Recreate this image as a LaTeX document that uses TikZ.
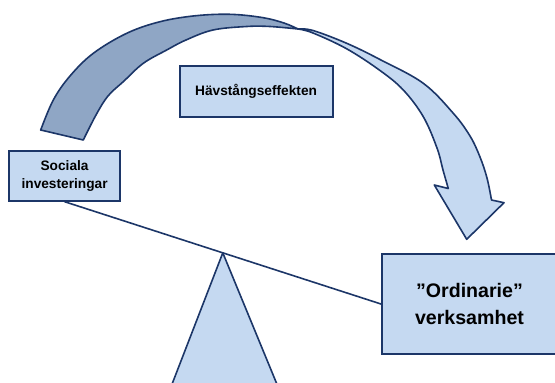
\documentclass[tikz,border=0pt]{standalone}
\usepackage{fontspec}
\setmainfont{Liberation Sans}
\usetikzlibrary{calc}
\definecolor{navy}{RGB}{28,54,104}
\definecolor{paleblue}{RGB}{197,217,241}
\definecolor{greyblue}{RGB}{143,166,197}
\tikzset{
  box/.style={draw=navy, line width=2pt, fill=paleblue, inner sep=0pt, align=center, text=black},
  small/.style={font=\fontsize{13.7}{18}\selectfont\bfseries},
  large/.style={font=\fontsize{19.6}{27}\selectfont\bfseries},
  edge/.style={draw=navy, line width=1.6pt, line join=round},
}
\begin{document}
\begin{tikzpicture}[x=1pt, y=-1pt]
\useasboundingbox (0,0) rectangle (555,383);
\clip (0,0) rectangle (555,383);

% boxes
\node[box, small, minimum width=111.6pt, minimum height=50pt] (soc) at (64.6,175.7) {Sociala\\investeringar};
\node[box, small, minimum width=153pt, minimum height=51pt] (hav) at (256.1,91.2) {Hävstångseffekten};
\node[box, large, minimum width=175pt, minimum height=100pt] (ord) at (469.5,304) {”Ordinarie”\\verksamhet};

% fulcrum under the middle of the beam
\coordinate (apex) at ($(soc.south)!0.5!(ord.west)$);
\coordinate (baseL) at ($(apex)+(-57.5,148.7)$);
\coordinate (baseR) at ($(apex)+(61.3,148.7)$);
\draw[edge, fill=paleblue] (apex) -- (baseL) -- (baseR) -- cycle;

% lever beam
\draw[navy, line width=1.6pt] (soc.south) -- (ord.west);

% twisted curved arrow: dark underside on the left
\coordinate (tailO) at (40.7,130);
\coordinate (tailI) at (83.3,140);
\coordinate (twist) at (298,29);
\draw[edge, fill=greyblue]
  plot[smooth, tension=0.6] coordinates {(tailO) (53.3,100) (70,76) (93.3,53.3) (126.7,33.3) (160,21.7) (195,15.8) (230,14.3) (262,17.5) (284,23) (twist)}
  -- plot[smooth, tension=0.6] coordinates {(twist) (270,26.5) (246.7,26.5) (213,30) (186,40) (166.7,50) (143.3,63.3) (124,81) (108,96) (96,115) (tailI)}
  -- cycle;

% light upper face with the arrow head
\draw[edge, fill=paleblue]
  plot[smooth, tension=0.6] coordinates {(twist) (313,30.5) (346.7,43.3) (380,59.5) (423.3,83.3) (453.3,113.3) (470,136) (480,157) (487,178) (491.5,200)}
  -- (504,202.7) -- (466.7,239.3) -- (434.3,185) -- (448.3,188.5)
  -- plot[smooth, tension=0.6] coordinates {(448.3,188.5) (443,170) (437,148) (423.3,116.7) (403.3,90) (380,70.5) (346.7,48.8) (313,33) (twist)}
  -- cycle;
\end{tikzpicture}
\end{document}
